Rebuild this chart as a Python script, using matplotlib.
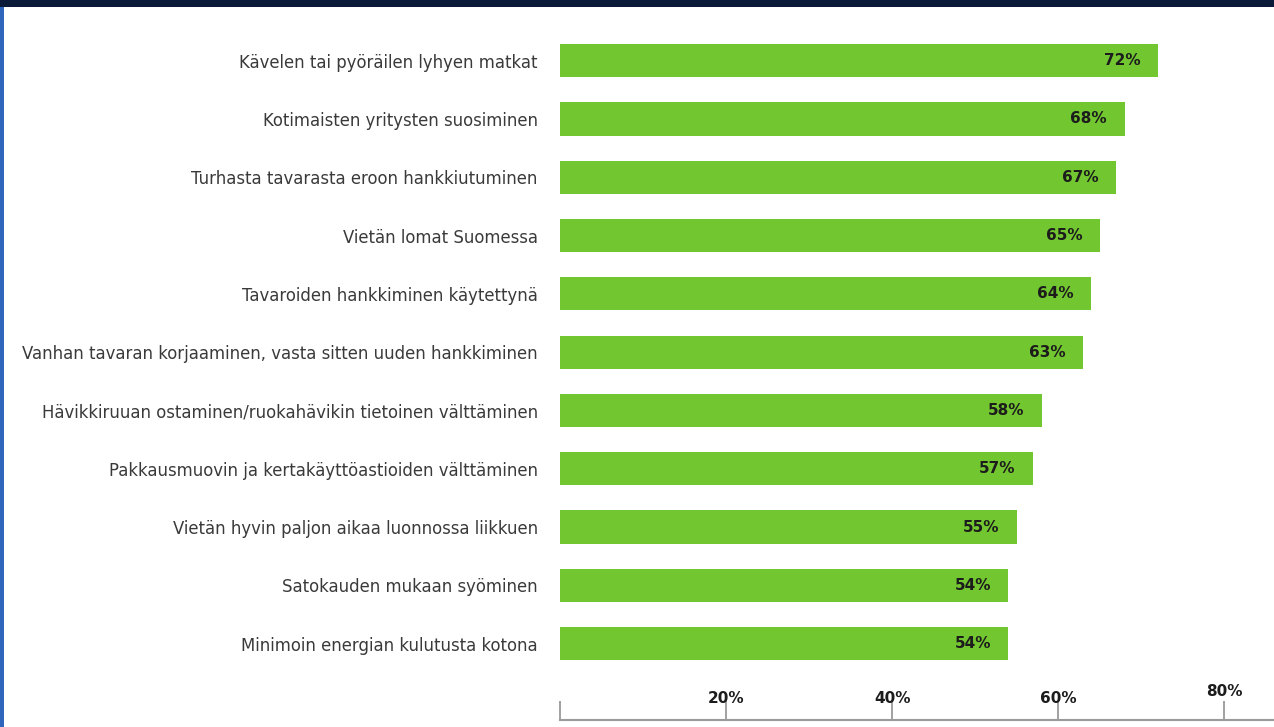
import matplotlib.pyplot as plt
from matplotlib.patches import Rectangle
import matplotlib.transforms as mtransforms

labels = [
    "Kävelen tai pyöräilen lyhyen matkat",
    "Kotimaisten yritysten suosiminen",
    "Turhasta tavarasta eroon hankkiutuminen",
    "Vietän lomat Suomessa",
    "Tavaroiden hankkiminen käytettynä",
    "Vanhan tavaran korjaaminen, vasta sitten uuden hankkiminen",
    "Hävikkiruuan ostaminen/ruokahävikin tietoinen välttäminen",
    "Pakkausmuovin ja kertakäyttöastioiden välttäminen",
    "Vietän hyvin paljon aikaa luonnossa liikkuen",
    "Satokauden mukaan syöminen",
    "Minimoin energian kulutusta kotona",
]
values = [72, 68, 67, 65, 64, 63, 58, 57, 55, 54, 54]
tick_vals = [20, 40, 60, 80]
tick_labels = ["20%", "40%", "60%", "80%"]

W, H = 1274, 727
fig = plt.figure(figsize=(W / 100, H / 100), dpi=100)
fig.patch.set_facecolor("#0b1a38")
# white panel with thin dark frame at top/left
fig.patches.append(Rectangle((4 / W, 0), 1 - 4 / W, 1 - 7 / H,
                             transform=fig.transFigure, facecolor="white",
                             edgecolor="none", zorder=-10))
fig.patches.append(Rectangle((0, 0), 4 / W, 1 - 7 / H,
                             transform=fig.transFigure, facecolor="#2f66bd",
                             edgecolor="none", zorder=-10))

ax_left, ax_right = 560, 1274
ax_top, ax_bot = 7, 720
ax = fig.add_axes([ax_left / W, 1 - ax_bot / H, (ax_right - ax_left) / W,
                   (ax_bot - ax_top) / H])
ax.set_facecolor("none")

green = "#72c62f"
pos = list(range(len(values)))
ax.barh(pos, values, height=0.57, color=green)
ax.set_xlim(0, 86)
ax.set_ylim(len(values) - 1 + 1.31, -0.92)

for p, v in zip(pos, values):
    ax.text(v - 2.1, p, f"{v}%", ha="right", va="center", fontsize=11,
            fontweight="bold", family="DejaVu Sans", color="#1c1c1c")

ax.set_yticks(pos)
ax.set_yticklabels(labels, fontsize=11.9, color="#3a3a3a", family="DejaVu Sans")
ax.tick_params(axis="y", length=0, pad=16)

for s in ["top", "right", "left"]:
    ax.spines[s].set_visible(False)
ax.spines["bottom"].set_color("#9a9a9a")
ax.spines["bottom"].set_linewidth(1.5)
ax.set_xticks([0] + tick_vals)
ax.set_xticklabels([])
ax.tick_params(axis="x", direction="in", length=14, width=1.3, color="#9a9a9a")

trans = mtransforms.blended_transform_factory(ax.transData, ax.transAxes)
for v, t in zip(tick_vals, tick_labels):
    y_off = 0.03 if v == 80 else 0.02
    ax.text(v, y_off, t, transform=trans, ha="center", va="bottom",
            fontsize=11, fontweight="bold", family="DejaVu Sans", color="#1c1c1c")

fig.savefig("out.png", dpi=100)
